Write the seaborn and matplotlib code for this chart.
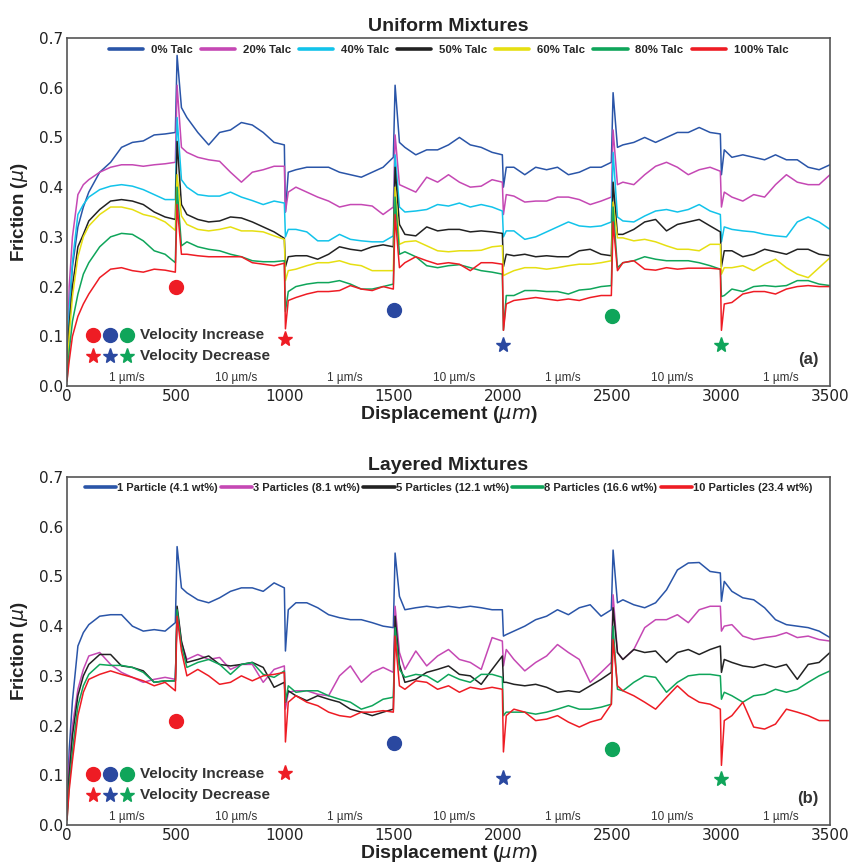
import matplotlib
matplotlib.use("Agg")
import matplotlib.pyplot as plt
from matplotlib.font_manager import FontProperties
import seaborn as sns

# ---------------- data ----------------
X = [0, 10, 25, 50, 75, 100, 150, 200, 250, 300, 350, 400, 450, 497,
     505, 525, 550, 600, 650, 700, 750, 800, 850, 900, 950, 997,
     1002, 1015, 1050, 1100, 1150, 1200, 1250, 1300, 1350, 1400, 1450, 1497,
     1505, 1525, 1550, 1600, 1650, 1700, 1750, 1800, 1850, 1900, 1950, 1997,
     2002, 2015, 2050, 2100, 2150, 2200, 2250, 2300, 2350, 2400, 2450, 2497,
     2505, 2525, 2550, 2600, 2650, 2700, 2750, 2800, 2850, 2900, 2950, 2997,
     3002, 3015, 3050, 3100, 3150, 3200, 3250, 3300, 3350, 3400, 3450, 3500]

# Uniform mixtures
talc0 = [0.02, 0.15, 0.24, 0.32, 0.36, 0.39, 0.43, 0.45, 0.48, 0.49, 0.493, 0.505, 0.507, 0.51,
         0.665, 0.56, 0.54, 0.51, 0.485, 0.51, 0.515, 0.53, 0.525, 0.51, 0.49, 0.485,
         0.35, 0.43, 0.435, 0.44, 0.44, 0.44, 0.43, 0.425, 0.42, 0.43, 0.44, 0.46,
         0.605, 0.49, 0.48, 0.465, 0.475, 0.475, 0.485, 0.5, 0.485, 0.48, 0.47, 0.465,
         0.40, 0.44, 0.44, 0.425, 0.44, 0.435, 0.44, 0.425, 0.43, 0.44, 0.44, 0.45,
         0.59, 0.48, 0.485, 0.49, 0.5, 0.49, 0.5, 0.51, 0.51, 0.52, 0.51, 0.507,
         0.425, 0.475, 0.46, 0.465, 0.46, 0.455, 0.465, 0.455, 0.455, 0.44, 0.435, 0.445]
talc20 = [0.02, 0.2, 0.3, 0.385, 0.405, 0.415, 0.43, 0.44, 0.445, 0.445, 0.442, 0.445, 0.447, 0.45,
          0.605, 0.48, 0.47, 0.46, 0.455, 0.452, 0.43, 0.41, 0.43, 0.435, 0.442, 0.442,
          0.35, 0.39, 0.4, 0.39, 0.38, 0.372, 0.36, 0.365, 0.365, 0.362, 0.345, 0.36,
          0.505, 0.405, 0.4, 0.39, 0.42, 0.41, 0.425, 0.41, 0.4, 0.402, 0.415, 0.41,
          0.345, 0.385, 0.382, 0.37, 0.372, 0.372, 0.38, 0.38, 0.375, 0.365, 0.372, 0.38,
          0.515, 0.405, 0.41, 0.405, 0.425, 0.442, 0.45, 0.44, 0.425, 0.435, 0.44, 0.432,
          0.36, 0.39, 0.38, 0.372, 0.385, 0.38, 0.405, 0.425, 0.41, 0.405, 0.405, 0.425]
talc40 = [0.02, 0.15, 0.25, 0.345, 0.365, 0.38, 0.395, 0.402, 0.405, 0.402, 0.395, 0.385, 0.375, 0.375,
          0.54, 0.415, 0.4, 0.385, 0.382, 0.382, 0.39, 0.38, 0.373, 0.365, 0.372, 0.368,
          0.30, 0.315, 0.315, 0.31, 0.292, 0.292, 0.305, 0.295, 0.292, 0.29, 0.29, 0.302,
          0.465, 0.36, 0.35, 0.352, 0.355, 0.365, 0.362, 0.368, 0.36, 0.365, 0.36, 0.352,
          0.30, 0.312, 0.312, 0.295, 0.3, 0.31, 0.32, 0.33, 0.322, 0.32, 0.322, 0.33,
          0.47, 0.34, 0.332, 0.33, 0.342, 0.352, 0.355, 0.35, 0.355, 0.365, 0.352, 0.345,
          0.29, 0.32, 0.315, 0.312, 0.31, 0.305, 0.302, 0.3, 0.33, 0.34, 0.33, 0.315]
talc50 = [0.02, 0.12, 0.2, 0.28, 0.305, 0.332, 0.355, 0.372, 0.375, 0.372, 0.365, 0.35, 0.34, 0.335,
          0.492, 0.365, 0.345, 0.335, 0.33, 0.332, 0.34, 0.338, 0.33, 0.32, 0.31, 0.297,
          0.24, 0.26, 0.262, 0.262, 0.255, 0.265, 0.28, 0.275, 0.272, 0.28, 0.284, 0.28,
          0.44, 0.325, 0.305, 0.302, 0.32, 0.312, 0.315, 0.315, 0.31, 0.312, 0.31, 0.307,
          0.24, 0.265, 0.262, 0.265, 0.26, 0.262, 0.26, 0.26, 0.272, 0.275, 0.265, 0.262,
          0.41, 0.305, 0.305, 0.315, 0.33, 0.335, 0.312, 0.325, 0.33, 0.335, 0.322, 0.31,
          0.24, 0.272, 0.272, 0.26, 0.265, 0.275, 0.27, 0.265, 0.275, 0.275, 0.265, 0.262]
talc60 = [0.02, 0.1, 0.18, 0.26, 0.3, 0.322, 0.345, 0.36, 0.36, 0.355, 0.345, 0.34, 0.33, 0.313,
          0.425, 0.342, 0.325, 0.315, 0.312, 0.315, 0.32, 0.312, 0.312, 0.31, 0.302, 0.295,
          0.212, 0.232, 0.235, 0.242, 0.248, 0.248, 0.252, 0.245, 0.242, 0.232, 0.232, 0.232,
          0.40, 0.285, 0.29, 0.292, 0.282, 0.272, 0.27, 0.272, 0.272, 0.273, 0.28, 0.282,
          0.222, 0.225, 0.232, 0.238, 0.238, 0.235, 0.238, 0.242, 0.245, 0.245, 0.248, 0.252,
          0.37, 0.298, 0.298, 0.292, 0.295, 0.29, 0.282, 0.275, 0.275, 0.272, 0.285, 0.285,
          0.225, 0.238, 0.238, 0.242, 0.232, 0.245, 0.255, 0.238, 0.225, 0.218, 0.238, 0.258]
talc80 = [0.01, 0.07, 0.13, 0.185, 0.225, 0.248, 0.28, 0.3, 0.307, 0.305, 0.292, 0.272, 0.265, 0.248,
          0.40, 0.282, 0.29, 0.28, 0.275, 0.272, 0.265, 0.26, 0.252, 0.25, 0.25, 0.252,
          0.15, 0.19, 0.2, 0.205, 0.208, 0.208, 0.212, 0.205, 0.195, 0.195, 0.2, 0.205,
          0.38, 0.265, 0.27, 0.26, 0.242, 0.238, 0.242, 0.244, 0.238, 0.232, 0.229, 0.225,
          0.112, 0.182, 0.182, 0.192, 0.192, 0.19, 0.19, 0.185, 0.193, 0.195, 0.2, 0.202,
          0.36, 0.238, 0.248, 0.252, 0.26, 0.255, 0.252, 0.252, 0.252, 0.248, 0.242, 0.235,
          0.18, 0.182, 0.195, 0.19, 0.2, 0.202, 0.2, 0.202, 0.212, 0.212, 0.205, 0.202]
talc100 = [0.01, 0.05, 0.1, 0.14, 0.165, 0.185, 0.218, 0.235, 0.238, 0.232, 0.229, 0.235, 0.233, 0.229,
           0.365, 0.265, 0.265, 0.262, 0.26, 0.26, 0.26, 0.26, 0.248, 0.245, 0.242, 0.247,
           0.115, 0.172, 0.178, 0.185, 0.19, 0.19, 0.192, 0.202, 0.195, 0.192, 0.2, 0.195,
           0.345, 0.238, 0.248, 0.26, 0.252, 0.245, 0.248, 0.245, 0.232, 0.248, 0.248, 0.245,
           0.112, 0.165, 0.172, 0.175, 0.178, 0.175, 0.172, 0.175, 0.172, 0.178, 0.182, 0.182,
           0.33, 0.232, 0.248, 0.252, 0.235, 0.233, 0.238, 0.235, 0.237, 0.237, 0.237, 0.235,
           0.112, 0.165, 0.168, 0.185, 0.19, 0.19, 0.185, 0.195, 0.2, 0.202, 0.2, 0.2]

# Layered mixtures
part1 = [0.02, 0.15, 0.25, 0.36, 0.387, 0.403, 0.42, 0.423, 0.423, 0.4, 0.39, 0.393, 0.39, 0.407,
         0.56, 0.477, 0.467, 0.453, 0.447, 0.457, 0.47, 0.477, 0.477, 0.47, 0.487, 0.477,
         0.35, 0.433, 0.447, 0.447, 0.437, 0.423, 0.417, 0.413, 0.413, 0.407, 0.4, 0.397,
         0.547, 0.46, 0.433, 0.437, 0.44, 0.437, 0.44, 0.437, 0.44, 0.437, 0.433, 0.433,
         0.38, 0.383, 0.39, 0.4, 0.413, 0.42, 0.433, 0.423, 0.437, 0.443, 0.42, 0.433,
         0.553, 0.447, 0.453, 0.443, 0.437, 0.447, 0.473, 0.513, 0.527, 0.528, 0.51, 0.507,
         0.45, 0.49, 0.47, 0.457, 0.453, 0.437, 0.413, 0.403, 0.4, 0.397, 0.39, 0.377]
part3 = [0.02, 0.12, 0.2, 0.273, 0.313, 0.34, 0.347, 0.323, 0.307, 0.297, 0.287, 0.293, 0.297, 0.293,
         0.433, 0.367, 0.333, 0.343, 0.333, 0.337, 0.313, 0.323, 0.323, 0.287, 0.313, 0.32,
         0.233, 0.267, 0.27, 0.27, 0.263, 0.26, 0.3, 0.32, 0.287, 0.307, 0.317, 0.307,
         0.44, 0.347, 0.313, 0.35, 0.32, 0.34, 0.353, 0.333, 0.327, 0.313, 0.377, 0.37,
         0.32, 0.353, 0.333, 0.31, 0.327, 0.34, 0.363, 0.347, 0.333, 0.287, 0.307, 0.327,
         0.463, 0.347, 0.333, 0.353, 0.397, 0.413, 0.413, 0.423, 0.407, 0.433, 0.44, 0.44,
         0.39, 0.4, 0.403, 0.38, 0.373, 0.377, 0.38, 0.387, 0.377, 0.38, 0.373, 0.37]
part5 = [0.02, 0.1, 0.18, 0.26, 0.3, 0.323, 0.343, 0.343, 0.32, 0.317, 0.31, 0.287, 0.29, 0.29,
         0.44, 0.37, 0.327, 0.333, 0.34, 0.323, 0.32, 0.323, 0.327, 0.317, 0.277, 0.287,
         0.247, 0.27, 0.26, 0.25, 0.26, 0.253, 0.247, 0.233, 0.227, 0.22, 0.227, 0.233,
         0.42, 0.323, 0.287, 0.293, 0.307, 0.313, 0.32, 0.303, 0.3, 0.283, 0.313, 0.34,
         0.287, 0.287, 0.283, 0.28, 0.283, 0.277, 0.267, 0.27, 0.267, 0.28, 0.293, 0.307,
         0.437, 0.347, 0.333, 0.353, 0.347, 0.35, 0.327, 0.347, 0.353, 0.343, 0.353, 0.36,
         0.307, 0.333, 0.327, 0.32, 0.317, 0.323, 0.317, 0.323, 0.293, 0.323, 0.327, 0.347]
part8 = [0.01, 0.08, 0.15, 0.24, 0.28, 0.303, 0.323, 0.321, 0.321, 0.317, 0.307, 0.287, 0.29, 0.29,
         0.433, 0.36, 0.317, 0.327, 0.333, 0.323, 0.303, 0.323, 0.327, 0.303, 0.297, 0.31,
         0.247, 0.28, 0.267, 0.27, 0.27, 0.26, 0.253, 0.247, 0.233, 0.24, 0.253, 0.257,
         0.397, 0.313, 0.297, 0.303, 0.3, 0.287, 0.303, 0.293, 0.287, 0.303, 0.303, 0.297,
         0.22, 0.227, 0.227, 0.227, 0.223, 0.227, 0.233, 0.24, 0.233, 0.233, 0.237, 0.243,
         0.4, 0.273, 0.27, 0.287, 0.3, 0.297, 0.267, 0.287, 0.3, 0.303, 0.303, 0.3,
         0.253, 0.267, 0.26, 0.247, 0.26, 0.263, 0.273, 0.267, 0.273, 0.287, 0.3, 0.31]
part10 = [0.01, 0.07, 0.13, 0.22, 0.267, 0.293, 0.303, 0.31, 0.303, 0.297, 0.29, 0.28, 0.287, 0.27,
          0.42, 0.35, 0.3, 0.313, 0.3, 0.283, 0.287, 0.3, 0.29, 0.3, 0.303, 0.307,
          0.167, 0.247, 0.26, 0.247, 0.24, 0.227, 0.22, 0.217, 0.227, 0.227, 0.23, 0.227,
          0.38, 0.28, 0.273, 0.29, 0.287, 0.273, 0.28, 0.267, 0.277, 0.273, 0.277, 0.273,
          0.147, 0.22, 0.233, 0.227, 0.21, 0.213, 0.22, 0.207, 0.197, 0.207, 0.213, 0.243,
          0.373, 0.28, 0.27, 0.26, 0.247, 0.233, 0.257, 0.28, 0.26, 0.247, 0.243, 0.233,
          0.12, 0.21, 0.22, 0.247, 0.197, 0.193, 0.203, 0.233, 0.227, 0.22, 0.21, 0.21]

uniform_labels = ["0% Talc", "20% Talc", "40% Talc", "50% Talc", "60% Talc", "80% Talc", "100% Talc"]
uniform_colors = ["#2a55a8", "#c548b4", "#12c3ea", "#222222", "#e6df12", "#0fa55a", "#ee1c24"]
layered_labels = ["1 Particle (4.1 wt%)", "3 Particles (8.1 wt%)", "5 Particles (12.1 wt%)",
                  "8 Particles (16.6 wt%)", "10 Particles (23.4 wt%)"]
layered_colors = ["#2a55a8", "#c548b4", "#222222", "#0fa55a", "#ee1c24"]

vel_x = [500, 1000, 1500, 2000, 2500, 3000]
vel_marks = ["o", "*", "o", "*", "o", "*"]
vel_colors = ["#ee1c24", "#ee1c24", "#2a48a0", "#2a48a0", "#0fa55a", "#0fa55a"]
velA_y = [0.2, 0.095, 0.153, 0.083, 0.14, 0.083]
velB_y = [0.21, 0.105, 0.165, 0.095, 0.153, 0.093]

speed_labels = ["1 µm/s", "10 µm/s", "1 µm/s", "10 µm/s", "1 µm/s", "10 µm/s", "1 µm/s"]
speed_x = [275, 775, 1275, 1775, 2275, 2775, 3275]

# ---------------- plot ----------------
sns.set_style("white")
plt.rcParams["font.family"] = ["DejaVu Sans"]
BOLD = "Liberation Sans"

fig = plt.figure(figsize=(8.56, 8.67), dpi=100)
axA = fig.add_axes([67 / 856, 1 - 386 / 867, 763 / 856, 348 / 867])
axB = fig.add_axes([67 / 856, 1 - 825 / 867, 763 / 856, 348 / 867])


def panel(ax, series, labels, colors, vel_y, title, tag, leg_size, leg_kw):
    for vals, lab, col in zip(series, labels, colors):
        sns.lineplot(x=X, y=vals, color=col, lw=1.1, label=lab, ax=ax,
                     sort=False, estimator=None)
    leg = ax.legend(loc="upper center", frameon=False,
                    prop=FontProperties(family=BOLD, weight="bold", size=leg_size), **leg_kw)
    for ln in leg.get_lines():
        ln.set_linewidth(2.6)
    # velocity-change markers
    for vx, vy, m, c in zip(vel_x, vel_y, vel_marks, vel_colors):
        ax.plot([vx], [vy], marker=m, color=c, ms=10 if m == "o" else 11,
                mec=c, ls="none")
    # marker key
    key_x = [120, 198, 276]
    key_c = ["#ee1c24", "#2a48a0", "#0fa55a"]
    for kx, kc in zip(key_x, key_c):
        ax.plot([kx], [0.103], marker="o", color=kc, ms=10, ls="none")
        ax.plot([kx], [0.06], marker="*", color=kc, ms=11, ls="none")
    ax.text(335, 0.103, "Velocity Increase", fontfamily=BOLD, fontweight="bold",
            fontsize=11, color="#333333", va="center")
    ax.text(335, 0.06, "Velocity Decrease", fontfamily=BOLD, fontweight="bold",
            fontsize=11, color="#333333", va="center")
    for sx, sl in zip(speed_x, speed_labels):
        ax.text(sx, 0.004, sl, fontfamily=BOLD, fontsize=8.5, color="#333333",
                ha="center", va="bottom")
    ax.text(0.985, 0.055, tag, transform=ax.transAxes, ha="right", va="bottom",
            fontfamily=BOLD, fontweight="bold", fontsize=12, color="#333333")
    ax.set_xlim(0, 3500)
    ax.set_ylim(0, 0.7)
    ax.set_xticks(range(0, 3501, 500))
    ax.set_yticks([0.0, 0.1, 0.2, 0.3, 0.4, 0.5, 0.6, 0.7])
    ax.set_yticklabels([f"{v:.1f}" for v in ax.get_yticks()])
    ax.tick_params(axis="both", direction="in", labelsize=11, length=4, width=1,
                   colors="#333333", labelcolor="#222222")
    ax.tick_params(axis="x", pad=2)
    ax.tick_params(axis="y", length=0, pad=3)
    for sp in ax.spines.values():
        sp.set_color("#555555")
        sp.set_linewidth(1.2)
    ax.set_title(title, fontfamily=BOLD, fontweight="bold", fontsize=14,
                 color="#222222", pad=5)
    ax.set_ylabel(r"Friction ($\mu$)", fontfamily=BOLD, fontweight="bold",
                  fontsize=13.5, color="#222222", labelpad=6)
    ax.set_xlabel(r"Displacement ($\mu m$)", fontfamily=BOLD, fontweight="bold",
                  fontsize=14, color="#222222", labelpad=0)


panel(axA, [talc0, talc20, talc40, talc50, talc60, talc80, talc100],
      uniform_labels, uniform_colors, velA_y, "Uniform Mixtures", "(a)", 8.2,
      dict(ncol=7, handlelength=3.0, handletextpad=0.7, columnspacing=0.7,
           borderaxespad=0.25))
panel(axB, [part1, part3, part5, part8, part10],
      layered_labels, layered_colors, velB_y, "Layered Mixtures", "(b)", 8.0,
      dict(ncol=5, handlelength=2.8, handletextpad=0.1, columnspacing=0.3,
           borderaxespad=0.15))

fig.savefig("out.png", dpi=100)
